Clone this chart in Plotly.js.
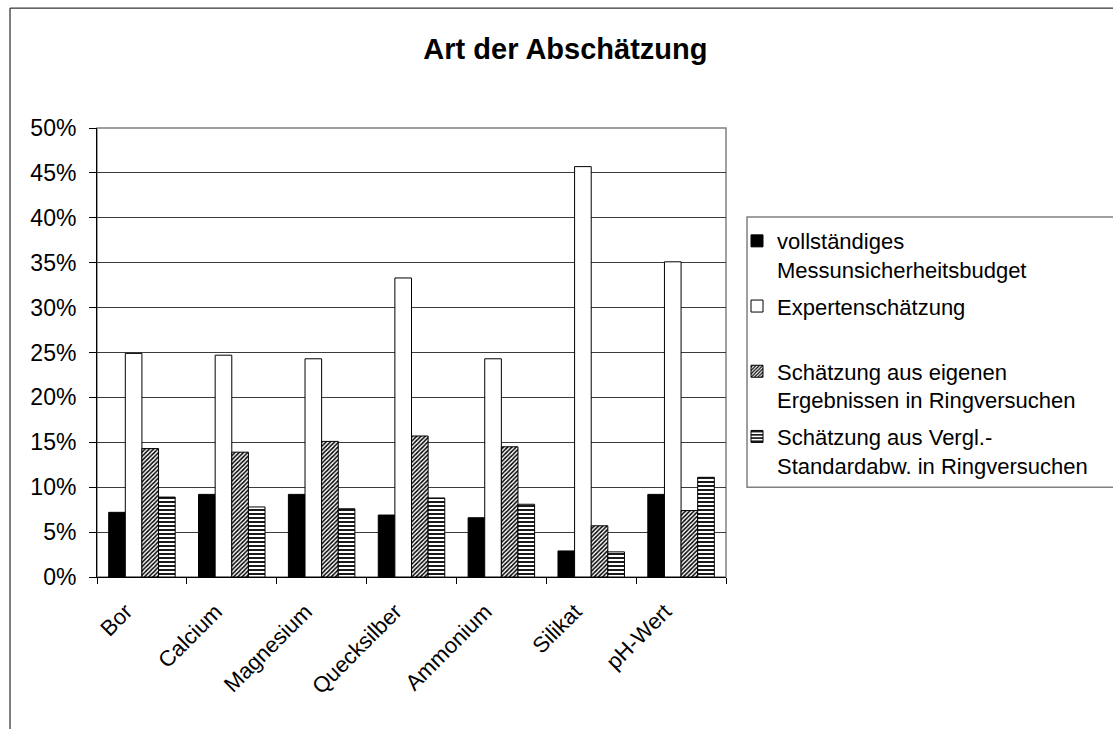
<!DOCTYPE html>
<html>
<head>
<meta charset="utf-8">
<script src="https://cdn.plot.ly/plotly-3.0.1.min.js"></script>
<style>
  html, body { margin: 0; padding: 0; background: #fff; }
  #chart { width: 1113px; height: 729px; }
</style>
</head>
<body>
<div id="chart"></div>
<script>
// Art der Abschätzung - grouped bar chart, values in percent
const categories = ['Bor', 'Calcium', 'Magnesium', 'Quecksilber', 'Ammonium', 'Silikat', 'pH-Wert'];

const vollstaendig = [7.2, 9.2, 9.2, 6.9, 6.6, 2.9, 9.2];
const experten = [24.9, 24.7, 24.3, 33.3, 24.3, 45.7, 35.1];
const eigeneErgebnisse = [14.3, 13.9, 15.1, 15.7, 14.5, 5.7, 7.4];
const verglStandardabw = [8.9, 7.8, 7.6, 8.8, 8.1, 2.8, 11.1];

const seriesNames = [
    'vollständiges<br>Messunsicherheitsbudget',
    'Expertenschätzung<br> ',
    'Schätzung aus eigenen<br>Ergebnissen in Ringversuchen',
    'Schätzung aus Vergl.-<br>Standardabw. in Ringversuchen'
];

const fontFamily = '"Liberation Sans", Arial, sans-serif';

function barTrace(values, name, pattern, color) {
    return {
        x: categories,
        y: values,
        name: name,
        type: 'bar',
        legendgroup: name,
        marker: {
            color: color,
            line: { color: '#000', width: 1 },
            pattern: pattern
        },
        hoverinfo: 'x+y'
    };
}

const traces = [
    barTrace(vollstaendig, seriesNames[0], { shape: '' }, '#000'),
    barTrace(experten, seriesNames[1], { shape: '' }, '#fff'),
    barTrace(eigeneErgebnisse, seriesNames[2],
        { shape: '/', size: 3, solidity: 0.5, fgcolor: '#000', bgcolor: '#fff', fillmode: 'replace' }, '#fff'),
    barTrace(verglStandardabw, seriesNames[3],
        { shape: '-', size: 4, solidity: 0.45, fgcolor: '#000', bgcolor: '#fff', fillmode: 'replace' }, '#fff')
];

// plot area in pixels: x 97..726, y 128..577
const layout = {
    width: 1113,
    height: 729,
    margin: { l: 97, r: 387, t: 128, b: 152, pad: 0 },
    paper_bgcolor: '#fff',
    plot_bgcolor: '#fff',
    font: { family: fontFamily, size: 22, color: '#000' },
    title: {
        text: '<b>Art der Abschätzung</b>',
        font: { family: fontFamily, size: 29, color: '#000' },
        x: 0.508, xanchor: 'center',
        y: 0.933, yanchor: 'middle'
    },
    barmode: 'group',
    bargap: 0.26,
    bargroupgap: 0,
    showlegend: true,
    legend: {
        x: 1.0175, xanchor: 'left',
        y: 0.795, yanchor: 'top',
        valign: 'top',
        tracegroupgap: 5,
        itemclick: false,
        bgcolor: 'rgba(0,0,0,0)',
        borderwidth: 0,
        font: { family: fontFamily, size: 22, color: '#000' }
    },
    xaxis: {
        type: 'category',
        tickangle: -45,
        tickson: 'boundaries',
        ticks: 'outside',
        ticklen: 6,
        tickcolor: '#000',
        ticklabelshift: -16,
        ticklabelstandoff: 12,
        showline: true,
        linecolor: '#000',
        linewidth: 1,
        showgrid: false,
        tickfont: { family: fontFamily, size: 22, color: '#000' }
    },
    yaxis: {
        range: [0, 50],
        dtick: 5,
        ticksuffix: '%',
        ticks: 'outside',
        ticklen: 7,
        tickcolor: '#000',
        ticklabelstandoff: 8,
        showline: true,
        linecolor: '#000',
        linewidth: 1,
        showgrid: true,
        gridcolor: '#3c3c3c',
        gridwidth: 1,
        zeroline: false,
        tickfont: { family: fontFamily, size: 23, color: '#000' }
    },
    shapes: [
        // outer chart frame (runs off the right and bottom edges)
        { type: 'rect', xref: 'paper', yref: 'paper', x0: -0.1383, x1: 2, y0: -1, y1: 1.267,
          line: { color: '#000', width: 1 }, layer: 'below' },
        // plot area border
        { type: 'rect', xref: 'paper', yref: 'paper', x0: 0, x1: 1, y0: 0, y1: 1,
          line: { color: '#808080', width: 1.5 }, layer: 'below' },
        // legend box
        { type: 'rect', xref: 'paper', yref: 'paper', x0: 1.0334, x1: 2, y0: 0.2, y1: 0.8018,
          line: { color: '#808080', width: 1.5 }, layer: 'below' }
    ]
};

Plotly.newPlot('chart', traces, layout, { displayModeBar: false, responsive: false });
</script>
</body>
</html>
